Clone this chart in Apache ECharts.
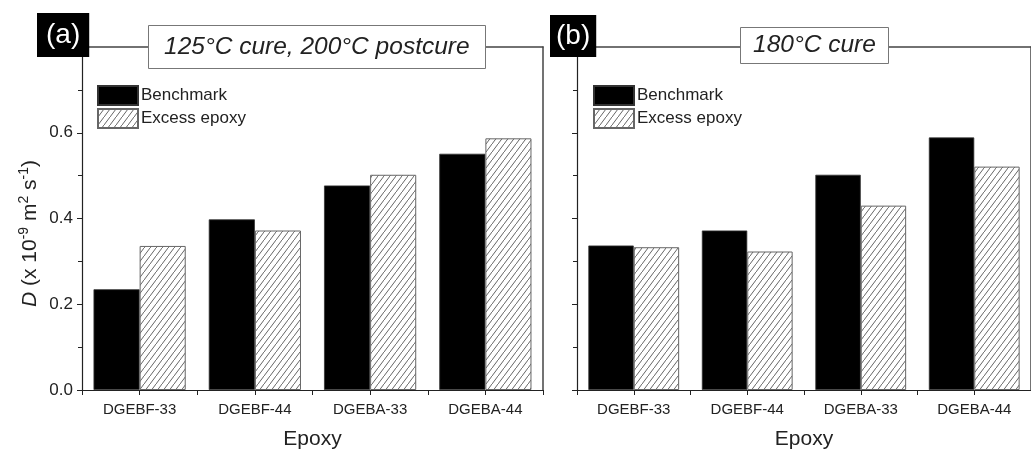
<!DOCTYPE html>
<html>
<head>
<meta charset="utf-8">
<script src="https://cdn.jsdelivr.net/npm/echarts@6/dist/echarts.min.js"></script>
<style>html,body{margin:0;padding:0;background:#fff;}#c{width:1031px;height:455px;}</style>
</head>
<body>
<div id="c"></div>
<script>
const categories = ['DGEBF-33', 'DGEBF-44', 'DGEBA-33', 'DGEBA-44'];
const benchmarkA = [0.235, 0.398, 0.477, 0.551];
const excessA = [0.336, 0.372, 0.502, 0.587];
const benchmarkB = [0.337, 0.372, 0.502, 0.589];
const excessB = [0.333, 0.323, 0.430, 0.521];
const seriesNames = ['Benchmark', 'Excess epoxy'];
const panelTitles = ['125°C cure, 200°C postcure', '180°C cure'];
const panelTags = ['(a)', '(b)'];
const yMin = 0, yMax = 0.8, yStep = 0.2;

function hatch() {
  const w = 6, h = 8;
  const c = document.createElement('canvas');
  c.width = w; c.height = h;
  const g = c.getContext('2d');
  g.fillStyle = '#fff'; g.fillRect(0, 0, w, h);
  g.strokeStyle = '#555'; g.lineWidth = 0.9;
  g.beginPath();
  g.moveTo(-w, 2 * h); g.lineTo(2 * w, -h);
  g.stroke();
  return c;
}
const hatchImg = hatch();
const FONT = 'Liberation Sans, Arial, sans-serif';
const AX = '#222';

const chart = echarts.init(document.getElementById('c'), null, {renderer: 'canvas'});
const grids = [
  {left: 82, top: 47, width: 461, height: 350},
  {left: 577, top: 47, width: 461, height: 350}
];
const xAxes = [], yAxes = [], series = [];
[0, 1].forEach(i => {
  xAxes.push({
    type: 'category', gridIndex: i, data: categories, position: 'bottom',
    name: 'Epoxy', nameLocation: 'middle', nameGap: 39,
    nameTextStyle: {fontSize: 21, color: AX, fontFamily: FONT},
    axisLine: {lineStyle: {color: AX, width: 1.2}},
    axisTick: {show: true, length: 5, inside: false, lineStyle: {color: AX}},
    axisLabel: {fontSize: 15, color: AX, fontFamily: FONT, margin: 12}
  });
  xAxes.push({
    type: 'category', gridIndex: i, data: categories, position: 'bottom',
    axisLine: {show: false}, axisLabel: {show: false},
    axisTick: {show: true, alignWithLabel: true, length: 5, lineStyle: {color: AX}}
  });
  xAxes.push({
    type: 'category', gridIndex: i, data: categories, position: 'top',
    axisLine: {show: true, lineStyle: {color: '#444', width: 1.5}},
    axisTick: {show: false}, axisLabel: {show: false}
  });
  yAxes.push({
    type: 'value', gridIndex: i, min: yMin, max: yMax, interval: yStep, position: 'left',
    name: i === 0 ? '{i|D} (x 10{s|-9} m{s|2} s{s|-1})' : '',
    nameLocation: 'middle', nameGap: 39, nameRotate: 90,
    nameTextStyle: {
      fontSize: 21, color: AX, fontFamily: FONT, lineHeight: 26, padding: [0, 30, 0, 0],
      rich: {
        i: {fontStyle: 'italic', fontSize: 21, fontFamily: FONT, color: AX, lineHeight: 26},
        s: {fontSize: 14, fontFamily: FONT, color: AX, verticalAlign: 'top', lineHeight: 13}
      }
    },
    splitLine: {show: false},
    axisLine: {show: true, lineStyle: {color: AX, width: 1.2}},
    axisTick: {show: true, length: 5, lineStyle: {color: AX}},
    minorTick: {show: true, splitNumber: 2, length: 4, lineStyle: {color: AX}},
    axisLabel: {show: i === 0, fontSize: 17, color: AX, fontFamily: FONT, margin: 9,
      showMaxLabel: false, formatter: v => v.toFixed(1)}
  });
  yAxes.push({
    type: 'value', gridIndex: i, min: yMin, max: yMax, position: 'right',
    splitLine: {show: false},
    axisLine: {show: true, lineStyle: {color: '#444', width: 1.5}},
    axisTick: {show: false}, axisLabel: {show: false}
  });
});
const dataSets = [[benchmarkA, excessA], [benchmarkB, excessB]];
[0, 1].forEach(i => {
  series.push({
    name: seriesNames[0], type: 'bar', xAxisIndex: i * 3, yAxisIndex: i * 2,
    data: dataSets[i][0], barGap: '0%', barCategoryGap: '20%',
    itemStyle: {color: '#000', borderColor: '#333', borderWidth: 0.8}
  });
  series.push({
    name: seriesNames[1], type: 'bar', xAxisIndex: i * 3, yAxisIndex: i * 2,
    data: dataSets[i][1], barGap: '0%', barCategoryGap: '20%',
    itemStyle: {color: {image: hatchImg, repeat: 'repeat'}, borderColor: '#666', borderWidth: 1}
  });
});
const legends = [0, 1].map(i => ({
  data: seriesNames.map(n => ({name: n, icon: 'rect'})), orient: 'vertical',
  left: i === 0 ? 92 : 588, top: 80,
  itemWidth: 40, itemHeight: 19, itemGap: 2, selectedMode: false,
  textStyle: {fontSize: 17, color: AX, fontFamily: FONT, padding: [0, 0, 0, -2]}
}));
const titles = [
  {text: panelTags[0], left: 37, top: 13, backgroundColor: '#000', padding: [6, 9, 6, 9],
   textStyle: {color: '#fff', fontSize: 28, fontWeight: 'normal', fontFamily: FONT, lineHeight: 32}},
  {text: panelTags[1], left: 550, top: 15, backgroundColor: '#000', padding: [5, 6, 5, 6],
   textStyle: {color: '#fff', fontSize: 28, fontWeight: 'normal', fontFamily: FONT, lineHeight: 32}},
  {text: panelTitles[0], left: 148, top: 25, backgroundColor: '#fff', borderColor: '#777', borderWidth: 1,
   padding: [8, 16, 8, 16],
   textStyle: {color: AX, fontSize: 24.5, fontStyle: 'italic', fontWeight: 'normal', fontFamily: FONT, lineHeight: 28}},
  {text: panelTitles[1], left: 740, top: 27, backgroundColor: '#fff', borderColor: '#777', borderWidth: 1,
   padding: [5, 13, 5, 13],
   textStyle: {color: AX, fontSize: 24.5, fontStyle: 'italic', fontWeight: 'normal', fontFamily: FONT, lineHeight: 27}}
];
chart.setOption({
  animation: false,
  backgroundColor: '#fff',
  title: titles,
  legend: legends,
  grid: grids,
  xAxis: xAxes,
  yAxis: yAxes,
  series: series
});
</script>
</body>
</html>
